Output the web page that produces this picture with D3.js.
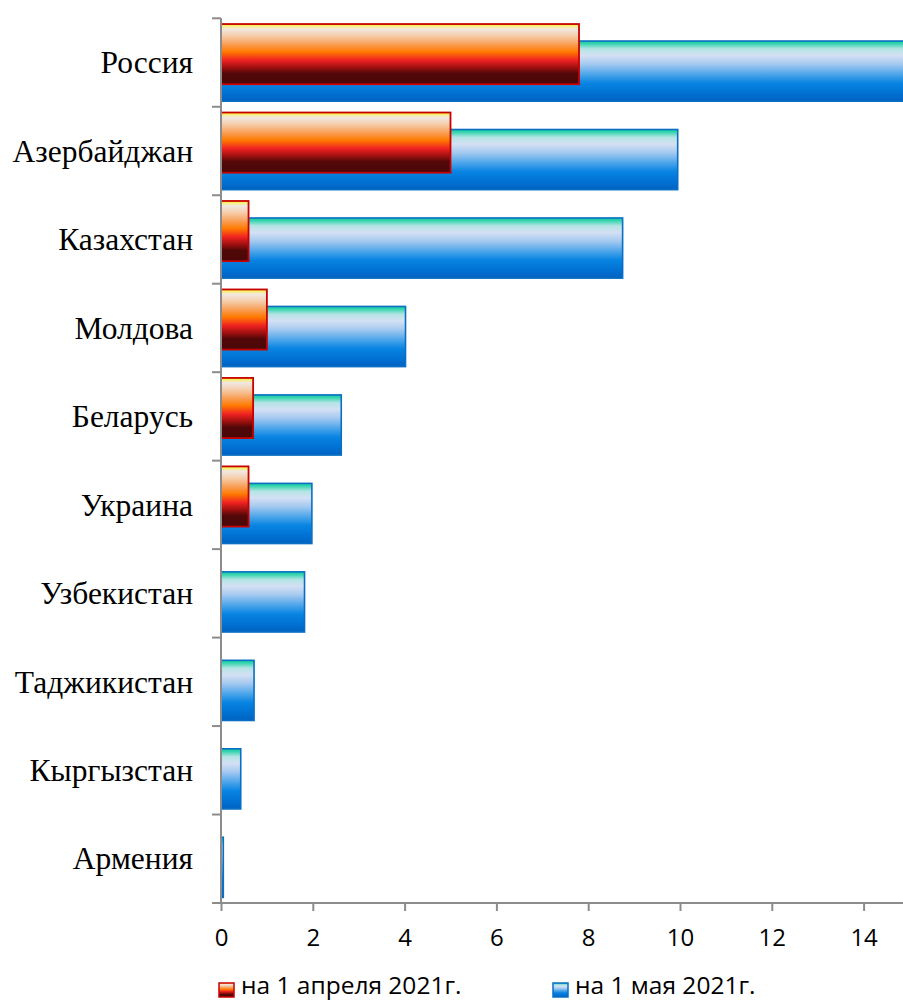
<!DOCTYPE html>
<html>
<head>
<meta charset="utf-8">
<script src="https://cdn.jsdelivr.net/npm/d3@7"></script>
<style>
  body { margin: 0; background: #fff; }
  svg { display: block; }
</style>
</head>
<body>
<div id="chart"></div>
<script>
// data
var countries = ["Россия", "Азербайджан", "Казахстан", "Молдова", "Беларусь",
                 "Украина", "Узбекистан", "Таджикистан", "Кыргызстан", "Армения"];
var april = [7.8, 5.0, 0.6, 1.0, 0.7, 0.6, 0, 0, 0, 0];
var may = [15.5, 9.95, 8.75, 4.02, 2.62, 1.98, 1.82, 0.72, 0.43, 0.05];
var xTicks = [0, 2, 4, 6, 8, 10, 12, 14];
var seriesNames = ["на 1 апреля 2021г.", "на 1 мая 2021г."];

var width = 903, height = 1001;
var axisColor = "#8c8c8c";

var svg = d3.select("#chart").append("svg")
    .attr("width", width)
    .attr("height", height);

var defs = svg.append("defs");

// vertical gradients like the office "rainbow" fills
var fireStops = [
    [0, "#f6ec10"], [0.03, "#f8f070"], [0.08, "#f0e8e2"], [0.2, "#f6cca8"],
    [0.33, "#f8a05a"], [0.46, "#ff7a00"], [0.6, "#f02222"], [0.72, "#a01010"],
    [0.82, "#520808"], [1, "#4a0707"]
];
var seaStops = [
    [0, "#18c89c"], [0.04, "#30d4ac"], [0.13, "#b4e4e4"], [0.24, "#d4e0f4"],
    [0.38, "#a6caf0"], [0.55, "#4ea6ea"], [0.7, "#0884e2"], [0.88, "#0070d2"],
    [1, "#0062c0"]
];

function addGradient(id, stops) {
    var g = defs.append("linearGradient")
        .attr("id", id)
        .attr("x1", 0).attr("y1", 0)
        .attr("x2", 0).attr("y2", 1);
    g.selectAll("stop").data(stops).enter().append("stop")
        .attr("offset", function(d) { return d[0]; })
        .attr("stop-color", function(d) { return d[1]; });
}
addGradient("fire", fireStops);
addGradient("sea", seaStops);

var x = d3.scaleLinear()
    .domain([0, 14])
    .range([221, 863.6]);

var y = d3.scaleBand()
    .domain(countries)
    .range([18.3, 903])
    .padding(0);

var bw = y.bandwidth();
var barH = bw * 0.68;

// blue bars (may) first, the april bars sit over them
svg.append("g").selectAll("rect")
    .data(countries)
    .enter().append("rect")
    .attr("x", x(0))
    .attr("y", function(d) { return y(d) + bw * 0.257; })
    .attr("width", function(d, i) { return Math.max(0, x(may[i]) - x(0)); })
    .attr("height", barH)
    .attr("fill", "url(#sea)")
    .attr("stroke", "#0a6fc4")
    .attr("stroke-width", 1.6);

svg.append("g").selectAll("rect")
    .data(countries.filter(function(d, i) { return april[i] > 0; }))
    .enter().append("rect")
    .attr("x", x(0))
    .attr("y", function(d) { return y(d) + bw * 0.065; })
    .attr("width", function(d) { return x(april[countries.indexOf(d)]) - x(0); })
    .attr("height", barH)
    .attr("fill", "url(#fire)")
    .attr("stroke", "#c80000")
    .attr("stroke-width", 1.8);

// category axis
var yEdges = countries.map(function(d) { return y(d); }).concat([y.range()[1]]);
var yAxis = svg.append("g");
yAxis.append("line")
    .attr("x1", x(0)).attr("x2", x(0))
    .attr("y1", y.range()[0]).attr("y2", y.range()[1])
    .attr("stroke", axisColor).attr("stroke-width", 2);
yAxis.selectAll("line.tick")
    .data(yEdges)
    .enter().append("line")
    .attr("class", "tick")
    .attr("x1", x(0) - 9).attr("x2", x(0))
    .attr("y1", function(d) { return d; })
    .attr("y2", function(d) { return d; })
    .attr("stroke", axisColor).attr("stroke-width", 2);
yAxis.selectAll("text")
    .data(countries)
    .enter().append("text")
    .attr("x", 193)
    .attr("y", function(d) { return y(d) + bw / 2; })
    .attr("dy", "0.34em")
    .attr("text-anchor", "end")
    .style("font-family", "'Liberation Serif', 'Times New Roman', serif")
    .style("font-size", "31.5px")
    .style("fill", "#000")
    .text(function(d) { return d; });

// value axis
var xAxis = d3.axisBottom(x)
    .tickValues(xTicks)
    .tickSize(8)
    .tickSizeOuter(0)
    .tickPadding(18)
    .tickFormat(d3.format("d"));

var gx = svg.append("g")
    .attr("transform", "translate(0," + y.range()[1] + ")")
    .call(xAxis);
gx.select(".domain").remove();
gx.insert("line", ":first-child")
    .attr("x1", x(0) - 9).attr("x2", width)
    .attr("y1", 0).attr("y2", 0)
    .attr("stroke", axisColor).attr("stroke-width", 2);
gx.selectAll(".tick line").attr("stroke", axisColor).attr("stroke-width", 2);
gx.selectAll(".tick text")
    .attr("font-size", null)
    .style("font-family", "'Open Sans', sans-serif")
    .style("font-size", "24px")
    .style("fill", "#000");

// legend
var legend = svg.append("g").attr("transform", "translate(0,990)");
var legendItems = [
    { name: seriesNames[0], fill: "url(#fire)", stroke: "#c80000", x: 219 },
    { name: seriesNames[1], fill: "url(#sea)", stroke: "#0a6fc4", x: 553 }
];
var li = legend.selectAll("g")
    .data(legendItems)
    .enter().append("g")
    .attr("transform", function(d) { return "translate(" + d.x + ",0)"; });
li.append("rect")
    .attr("x", 0).attr("y", -7)
    .attr("width", 15).attr("height", 14)
    .attr("fill", function(d) { return d.fill; })
    .attr("stroke", function(d) { return d.stroke; })
    .attr("stroke-width", 1.5);
li.append("text")
    .attr("x", 22)
    .attr("y", 4)
    .style("font-family", "'Open Sans', sans-serif")
    .style("font-size", "24.5px")
    .style("fill", "#000")
    .text(function(d) { return d.name; });
</script>
</body>
</html>
